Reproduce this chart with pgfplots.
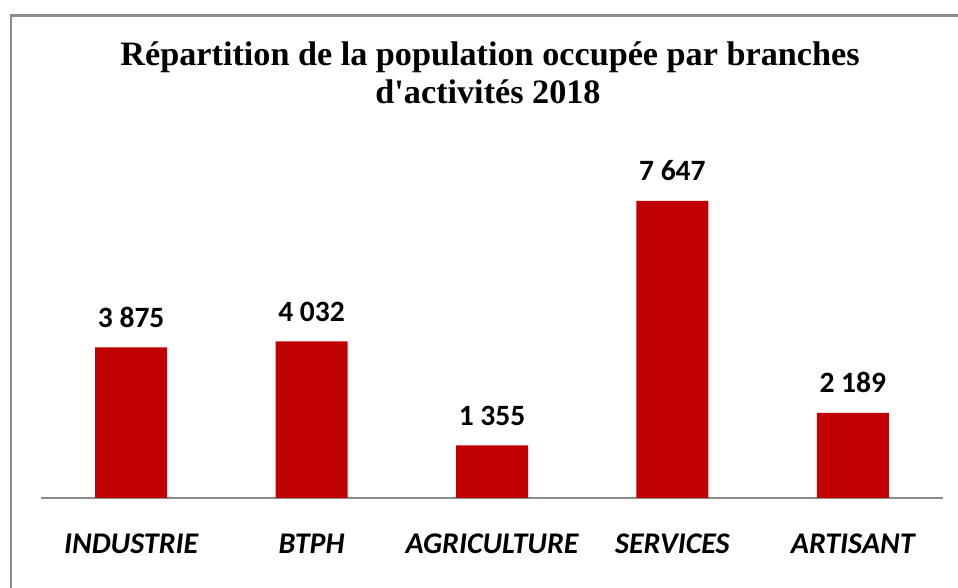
\documentclass[border=0pt]{standalone}
\usepackage{pgfplots}
\pgfplotsset{compat=1.18}
\usepackage{fontspec}
\setmainfont{Liberation Serif}
\newfontfamily\titlefont{Liberation Serif}
\newfontfamily\calibri{Carlito}
\definecolor{barred}{HTML}{C00000}
\definecolor{framegray}{HTML}{8C8C8C}
\begin{document}
\begin{tikzpicture}[x=1pt,y=1pt]
\path[use as bounding box] (0,0) rectangle (958,588);
\draw[framegray, line width=2.2pt] (11,0) -- (11,572.5) -- (958,572.5);
\node[anchor=base, font=\titlefont\fontsize{34.2}{40}\selectfont\bfseries] at (490,522) {Répartition de la population occupée par branches};
\node[anchor=base, font=\titlefont\fontsize{34.2}{40}\selectfont\bfseries] at (488,484) {d'activités 2018};
\begin{axis}[
  at={(41pt,90pt)}, anchor=south west,
  scale only axis, width=902pt, height=398pt,
  xmin=-0.5, xmax=4.5, ymin=0, ymax=10247,
  axis x line*=bottom, hide y axis,
  x axis line style={framegray, line width=1.8pt, -},
  xtick=data,
  xticklabels={INDUSTRIE, BTPH, AGRICULTURE, SERVICES, ARTISANT},
  xtick style={draw=none},
  xticklabel style={font=\calibri\fontsize{30}{32}\selectfont\bfseries\itshape, anchor=base, yshift=-51pt},
  ybar, bar width=72pt,
  nodes near coords={\pgfmathprintnumber[fixed, precision=0, 1000 sep={\ }, assume math mode=true]{\pgfplotspointmeta}},
  every node near coord/.append style={font=\calibri\fontsize{29.5}{31}\selectfont\bfseries, anchor=base, yshift=20pt, inner sep=0pt},
]
\addplot[fill=barred, draw=none] coordinates {(0,3875) (1,4032) (2,1355) (3,7647) (4,2189)};
\end{axis}
\end{tikzpicture}
\end{document}
